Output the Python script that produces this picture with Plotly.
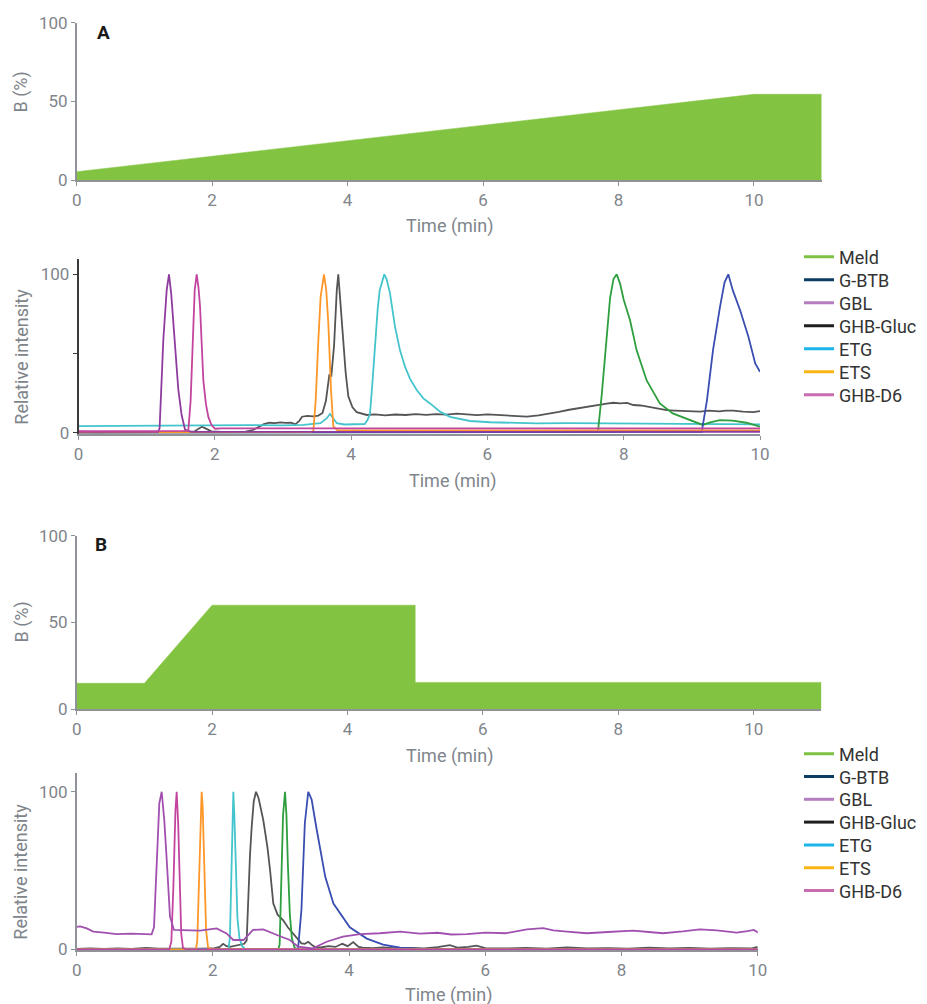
import plotly.graph_objects as go

# ---------------- DATA ----------------
names = ["Meld", "G-BTB", "GBL", "GHB-Gluc", "ETG", "ETS", "GHB-D6"]
legend_colors = ["#7DC242", "#0B3D62", "#B57EC0", "#1E1E1E", "#1CB5EA", "#FDB515", "#C96DB0"]
trace_colors = {"Meld": "#2E9E3E", "G-BTB": "#3A4DB0", "GBL": "#8E3BA0",
                "GHB-Gluc": "#555555", "ETG": "#44C4CC", "ETS": "#FF9628", "GHB-D6": "#C2449E"}
trace_colors_b = {"Meld": "#2E9E3E", "G-BTB": "#3A4DB0", "GBL": "#A150B0",
                  "GHB-Gluc": "#555555", "ETG": "#44C4CC", "ETS": "#FF9628", "GHB-D6": "#C2449E"}

time_ticks = [0, 2, 4, 6, 8, 10]

# Gradient A (time min, %B)
grad_a_t = [0, 10, 11]
grad_a_b = [5.3, 54.5, 54.5]
# Gradient B
grad_b_t = [0, 1, 2, 5, 5, 11]
grad_b_b = [15, 15, 60, 60, 15.5, 15.5]

# Chromatogram A
a_gbl_t = [0, 0.6, 1.1, 1.17, 1.19, 1.245, 1.294, 1.328, 1.36, 1.392, 1.43, 1.465, 1.514, 1.563, 1.65, 2.5, 4, 6, 8, 10]
a_gbl_y = [0.5, 0.5, 0.5, 0.5, 3, 59, 90, 100, 88, 69, 45, 27, 11, 2, 0.5, 0.5, 0.5, 0.6, 0.6, 0.6]

a_d6_t = [0, 0.8, 1.5, 1.611, 1.645, 1.675, 1.705, 1.734, 1.76, 1.783, 1.81, 1.832, 1.87, 1.905, 1.95, 2.003, 2.1, 3, 4, 5, 6, 7, 8, 9, 10]
a_d6_y = [1, 1, 1, 1.2, 20, 58, 90, 100, 92, 80, 55, 33, 18, 10, 5, 2.5, 2.8, 2.8, 3, 3, 3, 2.9, 3, 2.8, 2.8]

a_ets_t = [0, 1, 2, 3, 3.4, 3.446, 3.48, 3.519, 3.553, 3.602, 3.635, 3.666, 3.705, 3.739, 3.8, 4.5, 6, 8, 10]
a_ets_y = [0.3, 0.3, 0.3, 0.3, 0.4, 1, 20, 58, 86, 100, 90, 69, 27, 4, 1.5, 1.5, 1.6, 1.5, 1.5]

a_gluc_t = [0, 0.3, 0.6, 0.9, 1.2, 1.5, 1.7, 1.76, 1.81, 1.87, 1.95, 2.1, 2.3, 2.45, 2.56, 2.64, 2.72, 2.8,
            2.88, 2.96, 3.04, 3.12, 3.18, 3.24, 3.28, 3.36, 3.44, 3.52, 3.58, 3.63, 3.68, 3.71, 3.75, 3.79,
            3.812, 3.84, 3.886, 3.92, 3.959, 4.02, 4.082, 4.15, 4.23, 4.35, 4.5, 4.65, 4.8, 4.95, 5.1, 5.25,
            5.4, 5.55, 5.7, 5.85, 6.0, 6.15, 6.3, 6.45, 6.58, 6.75, 6.9, 7.05, 7.2, 7.35, 7.5, 7.65, 7.75,
            7.85, 7.95, 8.05, 8.14, 8.25, 8.4, 8.5, 8.63, 8.75, 8.9, 9.0, 9.12, 9.25, 9.4, 9.5, 9.61, 9.75,
            9.9, 10.0]
a_gluc_y = [0.6, 0.3, 0.5, 0.4, 0.6, 0.5, 0.8, 2.5, 3.8, 2.6, 0.9, 0.5, 0.4, 0.7, 1.7, 3.5, 5.4, 6.3,
            6.0, 6.5, 6.2, 6.4, 5.3, 7.5, 10.1, 10.6, 10.3, 10.8, 12.5, 20, 36.4, 36, 55, 90,
            100, 84, 58, 38, 23, 16, 13, 12, 11.2, 11.6, 11.0, 11.5, 11.2, 11.7, 11.3, 11.8,
            11.4, 12.0, 11.5, 11.1, 11.6, 11.2, 11.0, 10.6, 10.1, 11.0, 12.0, 13.2, 14.5, 15.6, 16.8, 18.0, 18.3,
            18.9, 18.5, 18.8, 17.5, 17.2, 16.0, 15.3, 14.3, 14.0, 13.6, 13.3, 13.3, 14.0, 13.5, 13.9, 13.9, 13.3,
            13.0, 13.6]

a_etg_t = [0, 0.5, 1.0, 1.5, 2.0, 2.5, 3.0, 3.3, 3.55, 3.64, 3.69, 3.74, 3.79, 3.9, 4.05, 4.2, 4.24, 4.277,
           4.31, 4.35, 4.39, 4.42, 4.46, 4.487, 4.52, 4.571, 4.644, 4.718, 4.791, 4.865, 4.963, 5.06, 5.158,
           5.305, 5.451, 5.6, 5.745, 6.038, 6.4, 6.72, 7.2, 7.7, 8.2, 8.7, 9.2, 9.6, 10.0]
a_etg_y = [4.2, 4.4, 4.2, 4.5, 4.6, 4.8, 4.6, 5.0, 6, 9, 11.8, 9, 6, 5.2, 5.3, 5.5, 8, 12,
           30, 56, 78, 90, 97, 100, 97, 88, 67, 52, 41.7, 34, 27, 21.7, 18.5,
           13.3, 10, 8.5, 7.4, 6.6, 6.2, 5.9, 6.1, 6.0, 5.9, 5.8, 5.6, 5.5, 5.3]

a_meld_t = [0, 2, 4, 6, 7.5, 7.622, 7.68, 7.75, 7.8, 7.85, 7.897, 7.946, 8.0, 8.093, 8.19, 8.337, 8.53,
            8.72, 9.02, 9.16, 9.27, 9.41, 9.6, 9.8, 10.0]
a_meld_y = [0.2, 0.2, 0.2, 0.2, 0.2, 0.5, 25, 58.5, 85, 97, 100, 94.3, 84, 71, 52, 33, 18.5,
            12.2, 7, 4.9, 6.5, 8, 7.6, 6.3, 3.8]

a_btb_t = [0, 2, 4, 6, 8, 9.0, 9.145, 9.22, 9.31, 9.413, 9.48, 9.535, 9.6, 9.707, 9.83, 9.93, 10.0]
a_btb_y = [0.1, 0.1, 0.1, 0.1, 0.1, 0.1, 0.5, 20, 52, 79.5, 95, 100, 90, 77.5, 60.6, 43.8, 38.5]

# Chromatogram B
b_gbl_t = [0.0, 0.05, 0.147, 0.244, 0.4, 0.587, 0.8, 1.0, 1.1, 1.135, 1.175, 1.213, 1.248, 1.286, 1.322,
           1.37, 1.429, 1.6, 1.81, 2.056, 2.2, 2.3, 2.45, 2.59, 2.74, 2.94, 3.13, 3.25, 3.47, 3.67, 3.91,
           4.16, 4.45, 4.75, 5.04, 5.3, 5.5, 5.73, 6.0, 6.3, 6.61, 6.85, 7.0, 7.2, 7.49, 7.8, 8.17, 8.4,
           8.61, 8.9, 9.15, 9.4, 9.69, 9.85, 9.94, 10.01]
b_gbl_y = [14.3, 14.5, 13.3, 11.2, 10.6, 9.7, 10.0, 9.6, 9.5, 14, 56.6, 92.6, 100, 82, 56.7,
           20.7, 12.3, 12.1, 11.8, 13.3, 10.1, 5.9, 5.9, 12.3, 12.7, 9.1, 5.9, 1.7, 0.6, 4.8, 8,
           9.7, 10.2, 11.2, 10.0, 10.5, 9.4, 9.7, 10.6, 10.2, 12.7, 13.4, 12.0, 11.2, 10.2, 11.0, 11.8, 11.0,
           10.2, 11.4, 12.7, 12.0, 10.6, 11.5, 12.3, 10.6]

b_d6_t = [0, 1.0, 1.36, 1.39, 1.42, 1.45, 1.468, 1.49, 1.51, 1.535, 1.56, 1.6, 3, 6, 10]
b_d6_y = [0, 0, 0, 5, 40, 88, 100, 80, 40, 10, 1, 0, 0, 0, 0]

b_ets_t = [0, 1.0, 1.75, 1.77, 1.8, 1.82, 1.835, 1.85, 1.875, 1.9, 1.93, 2.0, 5, 10]
b_ets_y = [0, 0, 0, 5, 55, 92, 100, 90, 50, 12, 1, 0, 0, 0]

b_etg_t = [0, 1.0, 2.23, 2.25, 2.27, 2.29, 2.3, 2.315, 2.335, 2.36, 2.39, 2.43, 2.48, 4, 10]
b_etg_y = [0, 0, 0, 8, 50, 95, 100, 85, 50, 20, 7, 2, 0, 0, 0]

b_gluc_t = [0, 0.2, 0.4, 0.6, 0.8, 1.02, 1.2, 1.4, 1.6, 1.8, 2.0, 2.1, 2.15, 2.2, 2.25, 2.32, 2.4, 2.46,
            2.496, 2.52, 2.545, 2.57, 2.6, 2.633, 2.67, 2.74, 2.8, 2.84, 2.887, 2.95, 3.03, 3.1, 3.18,
            3.24, 3.30, 3.35, 3.4, 3.46, 3.52, 3.6, 3.7, 3.8, 3.9, 3.98, 4.06, 4.14, 4.2, 4.35, 4.5, 4.7,
            4.9, 5.1, 5.3, 5.48, 5.6, 5.75, 5.87, 6.0, 6.3, 6.6, 6.9, 7.2, 7.5, 7.8, 8.1, 8.4, 8.7, 9.0,
            9.3, 9.6, 9.9, 10.0]
b_gluc_y = [0.3, 0.5, 0.2, 0.6, 0.3, 0.9, 0.4, 0.3, 0.5, 0.4, 0.5, 1.5, 3.5, 2.0, 1.5, 2.2, 3.0, 3.5,
            5.7, 35, 60, 78, 94, 100, 96, 82, 65, 50, 29, 22, 18.6, 14, 10,
            6.5, 3.8, 3.5, 4.8, 2.5, 1.0, 1.3, 2.0, 1.5, 3.5, 2.0, 4.6, 1.5, 1.0, 0.8, 1.2, 0.6,
            0.9, 0.5, 1.4, 2.7, 1.0, 1.6, 2.3, 0.8, 0.5, 0.9, 0.4, 1.2, 0.5, 0.8, 0.4, 1.1, 0.6, 0.9,
            0.4, 0.7, 0.5, 1.5]

b_meld_t = [0, 1.0, 2.0, 2.96, 2.98, 3.0, 3.03, 3.059, 3.08, 3.1, 3.13, 3.16, 3.2, 3.25, 5, 10]
b_meld_y = [0, 0, 0, 0, 3, 30, 85, 100, 85, 55, 22, 7, 1, 0, 0, 0]

b_btb_t = [0, 2.0, 3.25, 3.30, 3.35, 3.40, 3.45, 3.52, 3.65, 3.77, 4.01, 4.26, 4.5, 4.75, 5.04, 5.6, 10]
b_btb_y = [0, 0, 0, 25, 80, 100, 95, 77, 46, 29, 14, 6.8, 3, 1, 0.3, 0, 0]

chrom_a = {"GHB-Gluc": (a_gluc_t, a_gluc_y), "ETG": (a_etg_t, a_etg_y), "Meld": (a_meld_t, a_meld_y),
           "G-BTB": (a_btb_t, a_btb_y), "ETS": (a_ets_t, a_ets_y), "GBL": (a_gbl_t, a_gbl_y),
           "GHB-D6": (a_d6_t, a_d6_y)}
chrom_b = {"GHB-Gluc": (b_gluc_t, b_gluc_y), "G-BTB": (b_btb_t, b_btb_y), "Meld": (b_meld_t, b_meld_y),
           "ETG": (b_etg_t, b_etg_y), "ETS": (b_ets_t, b_ets_y), "GHB-D6": (b_d6_t, b_d6_y),
           "GBL": (b_gbl_t, b_gbl_y)}

# ---------------- FIGURE ----------------
OFF = 8  # page body margin of the browser
W, H = 927 - OFF, 1004 - OFF
FONT = "Roboto, 'Open Sans', sans-serif"
TICK_C = "#80858b"
AXIS_C = "#8f9398"
GREEN = "#82C341"


def px_x(p):
    return (p - OFF) / W


def px_y(p):
    return 1 - (p - OFF) / H


fig = go.Figure()

# gradients
fig.add_trace(go.Scatter(x=grad_a_t, y=grad_a_b, mode="lines", fill="tozeroy", fillcolor=GREEN,
                         line=dict(color=GREEN, width=0.5), showlegend=False, xaxis="x", yaxis="y",
                         hoverinfo="skip"))
fig.add_trace(go.Scatter(x=grad_b_t, y=grad_b_b, mode="lines", fill="tozeroy", fillcolor=GREEN,
                         line=dict(color=GREEN, width=0.5), showlegend=False, xaxis="x3", yaxis="y3",
                         hoverinfo="skip"))

for n, (t, y) in chrom_a.items():
    fig.add_trace(go.Scatter(x=t, y=y, mode="lines", line=dict(color=trace_colors[n], width=1.8),
                             name=n, showlegend=False, xaxis="x2", yaxis="y2"))
for n, (t, y) in chrom_b.items():
    fig.add_trace(go.Scatter(x=t, y=y, mode="lines", line=dict(color=trace_colors_b[n], width=1.8),
                             name=n, showlegend=False, xaxis="x4", yaxis="y4"))

# legend entries (one legend per row for exact spacing)
legend_layout = {}
rows_a = [257 + 23.0 * i for i in range(7)]
rows_b = [754 + 22.8 * i for i in range(7)]
k = 1
for rows, xa, ya in ((rows_a, "x2", "y2"), (rows_b, "x4", "y4")):
    for i, n in enumerate(names):
        lname = "legend" if k == 1 else f"legend{k}"
        fig.add_trace(go.Scatter(x=[None], y=[None], mode="lines", name=n,
                                 line=dict(color=legend_colors[i], width=3),
                                 legend=lname, xaxis=xa, yaxis=ya, showlegend=True))
        legend_layout[lname] = dict(x=px_x(799), xanchor="left", y=px_y(rows[i]), yanchor="middle",
                                    bgcolor="rgba(0,0,0,0)", borderwidth=0,
                                    font=dict(family=FONT, size=18, color="#333333"))
        k += 1

common_x = dict(showgrid=False, zeroline=False, showline=True, linecolor=AXIS_C, linewidth=1.5,
                ticks="outside", ticklen=4, tickcolor=AXIS_C, tickwidth=1, automargin=False,
                tickfont=dict(family=FONT, size=17, color=TICK_C), tickvals=time_ticks)
common_y = dict(showgrid=False, zeroline=False, showline=True, linecolor=AXIS_C, linewidth=1.5,
                ticks="outside", ticklen=4, tickcolor=AXIS_C, tickwidth=1, automargin=False,
                tickfont=dict(family=FONT, size=17, color=TICK_C))

fig.update_layout(
    width=W, height=H, margin=dict(l=0, r=0, t=0, b=0, autoexpand=False),
    paper_bgcolor="white", plot_bgcolor="white",
    font=dict(family=FONT),
    xaxis=dict(common_x, domain=[px_x(76.7), px_x(821.7)], range=[0, 11], anchor="y"),
    yaxis=dict(common_y, domain=[px_y(180), px_y(22.7)], range=[0, 100], tickvals=[0, 50, 100], anchor="x"),
    xaxis2=dict(common_x, domain=[px_x(78.5), px_x(760)], range=[0, 10], anchor="y2"),
    yaxis2=dict(common_y, domain=[px_y(434.3), px_y(259.3)], range=[-1, 109.5], tickvals=[0, 50, 100],
                ticktext=["0", "", "100"], linecolor="#3a3a3a", tickcolor="#3a3a3a", anchor="x2"),
    xaxis3=dict(common_x, domain=[px_x(76.7), px_x(821.4)], range=[0, 11], anchor="y3"),
    yaxis3=dict(common_y, domain=[px_y(709.3), px_y(535.7)], range=[0, 100], tickvals=[0, 50, 100], anchor="x3"),
    xaxis4=dict(common_x, domain=[px_x(76.7), px_x(757.7)], range=[0, 10], anchor="y4"),
    yaxis4=dict(common_y, domain=[px_y(950.1), px_y(773.3)], range=[-0.5, 111.7], tickvals=[0, 100], anchor="x4"),
    **legend_layout,
)

ann = []
title_font = dict(family=FONT, size=18, color=TICK_C)
for (cx, cy) in ((449, 226), (452, 481), (449, 756), (448, 995)):
    ann.append(dict(text="Time (min)", x=px_x(cx), y=px_y(cy), xref="paper", yref="paper",
                    showarrow=False, xanchor="center", yanchor="middle", font=title_font))
for (txt, cx, cy) in (("B (%)", 21, 92.5), ("Relative intensity", 22, 356.7),
                      ("B (%)", 21, 622.5), ("Relative intensity", 21, 871.7)):
    ann.append(dict(text=txt, x=px_x(cx), y=px_y(cy), xref="paper", yref="paper", textangle=-90,
                    showarrow=False, xanchor="center", yanchor="middle", font=title_font))
ann.append(dict(text="<b>A</b>", x=px_x(103.5), y=px_y(33), xref="paper", yref="paper", showarrow=False,
                xanchor="center", yanchor="middle", font=dict(family=FONT, size=19, color="#1a1a1a")))
ann.append(dict(text="<b>B</b>", x=px_x(100.5), y=px_y(544), xref="paper", yref="paper", showarrow=False,
                xanchor="center", yanchor="middle", font=dict(family=FONT, size=19, color="#1a1a1a")))
fig.update_layout(annotations=ann)

fig.write_html("out.html")
